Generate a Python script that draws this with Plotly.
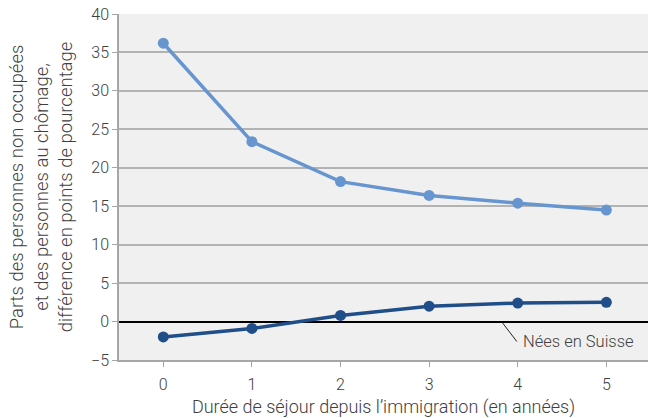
import plotly.graph_objects as go

years = [0, 1, 2, 3, 4, 5]
ecart_clair = [36.2, 23.4, 18.2, 16.4, 15.4, 14.5]
ecart_fonce = [-2.0, -0.9, 0.8, 2.0, 2.4, 2.5]
y_ticks = [-5, 0, 5, 10, 15, 20, 25, 30, 35, 40]
y_labels = ["\u22125", "0", "5", "10", "15", "20", "25", "30", "35", "40"]

font_fam = "Roboto"
txt_col = "#404040"

fig = go.Figure()
fig.add_trace(go.Scatter(x=years, y=ecart_clair, mode="lines+markers",
                         line=dict(color="#6795d0", width=3.5),
                         marker=dict(size=11, color="#6795d0"),
                         showlegend=False, cliponaxis=False))
fig.add_trace(go.Scatter(x=years, y=ecart_fonce, mode="lines+markers",
                         line=dict(color="#1f4e88", width=3.5),
                         marker=dict(size=11, color="#1f4e88"),
                         showlegend=False, cliponaxis=False))

fig.add_shape(type="line", x0=3.83, y0=-0.2, x1=3.99, y1=-2.6,
              line=dict(color="#222222", width=1))
fig.add_annotation(x=4.04, y=-2.55, text="Nées en Suisse", showarrow=False,
                   xanchor="left", yanchor="middle",
                   font=dict(family=font_fam, size=16.5, color=txt_col, weight=300))

fig.update_layout(
    width=648, height=418,
    margin=dict(l=119, r=0, t=14, b=58),
    paper_bgcolor="white",
    plot_bgcolor="#f0f0f0",
    font=dict(family=font_fam, size=16, color=txt_col, weight=300),
    xaxis=dict(
        range=[-0.5, 5.47], tickmode="array", tickvals=years,
        ticktext=[str(v) for v in years],
        showgrid=False, zeroline=False,
        showline=True, linecolor="#a6a6a6", linewidth=1.5,
        ticks="outside", ticklen=5, tickcolor="#a6a6a6", tickson="boundaries",
        ticklabelstandoff=4,
        tickfont=dict(size=16, color=txt_col, weight=300),
        title=dict(text="Durée de séjour depuis l\u2019immigration (en années)",
                   font=dict(size=18, color=txt_col, weight=300), standoff=10),
    ),
    yaxis=dict(
        range=[-5, 40], tickmode="array", tickvals=y_ticks, ticktext=y_labels,
        showgrid=True, gridcolor="#b3b3b3", gridwidth=1.5,
        zeroline=True, zerolinecolor="#000000", zerolinewidth=2,
        showline=True, linecolor="#a6a6a6", linewidth=1.5,
        ticks="outside", ticklen=5, tickcolor="#a6a6a6",
        tickfont=dict(size=16, color=txt_col, weight=300),
        title=dict(text="Parts des personnes non occupées<br>et des personnes au chômage,<br>différence en points de pourcentage",
                   font=dict(size=18.5, color=txt_col, weight=300), standoff=14),
    ),
)

fig.write_html("out.html", config={"displayModeBar": False},
               post_script="document.body.style.margin='0';document.body.style.overflow='hidden';")
